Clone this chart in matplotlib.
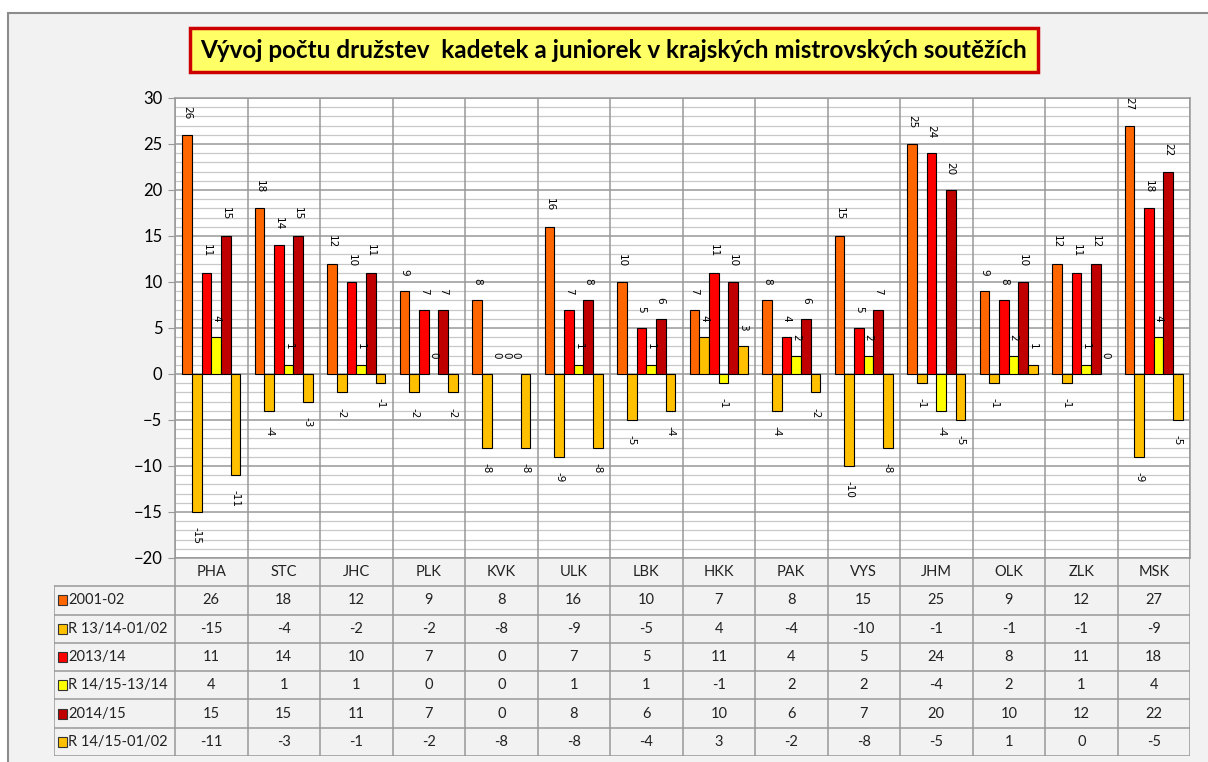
import numpy as np
import matplotlib
matplotlib.use("Agg")
import matplotlib.pyplot as plt
from matplotlib.patches import Rectangle

plt.rcParams['font.family'] = ['Lato', 'DejaVu Sans']

# data
kraje = ['PHA', 'STC', 'JHC', 'PLK', 'KVK', 'ULK', 'LBK', 'HKK', 'PAK', 'VYS', 'JHM', 'OLK', 'ZLK', 'MSK']
r2001 = [26, 18, 12, 9, 8, 16, 10, 7, 8, 15, 25, 9, 12, 27]
rozdil_13_01 = [-15, -4, -2, -2, -8, -9, -5, 4, -4, -10, -1, -1, -1, -9]
r2013 = [11, 14, 10, 7, 0, 7, 5, 11, 4, 5, 24, 8, 11, 18]
rozdil_14_13 = [4, 1, 1, 0, 0, 1, 1, -1, 2, 2, -4, 2, 1, 4]
r2014 = [15, 15, 11, 7, 0, 8, 6, 10, 6, 7, 20, 10, 12, 22]
rozdil_14_01 = [-11, -3, -1, -2, -8, -8, -4, 3, -2, -8, -5, 1, 0, -5]

nazvy = ['2001-02', 'R 13/14-01/02', '2013/14', 'R 14/15-13/14', '2014/15', 'R 14/15-01/02']
serie = [r2001, rozdil_13_01, r2013, rozdil_14_13, r2014, rozdil_14_01]
barvy = ['#FF6600', '#FFC000', '#FF0000', '#FFFF00', '#C00000', '#FFC000']

W, H = 1208, 762
fig = plt.figure(figsize=(W / 100, H / 100), dpi=100, facecolor='white')

def fx(px):
    return px / W

def fy(py):
    return 1 - py / H

# chart background + frame
fig.patches.append(Rectangle((fx(8), fy(775)), fx(1230) - fx(8), fy(13) - fy(775),
                             transform=fig.transFigure, facecolor='#F2F2F2',
                             edgecolor='#8C8C8C', linewidth=1.5, zorder=-5))

# plot area
x0, x1, ytop, ybot = 175, 1190, 98, 558
ax = fig.add_axes([fx(x0), fy(ybot), fx(x1) - fx(x0), fy(ytop) - fy(ybot)])
ax.set_facecolor('white')
n = len(kraje)
x = np.arange(n)
w = 1 / 7.5

for k, (vals, c) in enumerate(zip(serie, barvy)):
    pos = x + (k - 2.5) * w
    lws = [0.8 if v != 0 else 0 for v in vals]
    ax.bar(pos, vals, width=w, color=c, edgecolor='black', linewidth=lws, zorder=3)
    for xp, v in zip(pos, vals):
        if v >= 0:
            ax.annotate(str(v), (xp, v), xytext=(0, 11), textcoords='offset points',
                        rotation=270, ha='center', va='bottom', fontsize=7.5,
                        family=['DejaVu Sans'], zorder=4)
        else:
            ax.annotate(str(v), (xp, v), xytext=(0, -11), textcoords='offset points',
                        rotation=270, ha='center', va='top', fontsize=7.5,
                        family=['DejaVu Sans'], zorder=4)

ax.set_xlim(-0.5, n - 0.5)
ax.set_ylim(-20, 30)
ax.set_yticks(np.arange(-20, 31, 5))
ax.set_yticks(np.arange(-20, 31, 1), minor=True)
ax.set_xticks([])
ax.grid(axis='y', which='minor', color='#C8C8C8', linewidth=0.9, zorder=1)
ax.grid(axis='y', which='major', color='#989898', linewidth=1.1, zorder=1)
for b in np.arange(-0.5, n, 1):
    ax.axvline(b, color='#989898', linewidth=1.1, zorder=2)
for s in ax.spines.values():
    s.set_color('#989898')
    s.set_linewidth(1.1)
ax.tick_params(axis='y', which='major', length=5, color='#989898', labelsize=12, pad=4)
ax.tick_params(axis='y', which='minor', length=0)
ax.set_axisbelow(True)

# data table below the chart
tleft, tbot = 54, 756
rowh = (tbot - ybot) / 7.0
tab = fig.add_axes([fx(tleft), fy(tbot), fx(x1) - fx(tleft), fy(ybot) - fy(tbot)])
tab.set_xlim(tleft, x1)
tab.set_ylim(tbot, ybot)
tab.axis('off')
tab.patch.set_alpha(0)
colw = (x1 - x0) / n
lc = '#989898'

# vertical lines
for i in range(n + 1):
    tab.plot([x0 + i * colw] * 2, [ybot, tbot], color=lc, linewidth=1.1)
tab.plot([tleft, tleft], [ybot + rowh, tbot], color=lc, linewidth=1.1)
# horizontal lines
for r in range(1, 8):
    tab.plot([tleft, x1], [ybot + r * rowh] * 2, color=lc, linewidth=1.1)

for i, kr in enumerate(kraje):
    tab.text(x0 + (i + 0.5) * colw, ybot + 0.5 * rowh, kr, ha='center', va='center',
             fontsize=10.5, color='#222222')

for r, (nm, vals, c) in enumerate(zip(nazvy, serie, barvy)):
    yc = ybot + (r + 1.5) * rowh
    tab.add_patch(Rectangle((tleft + 4, yc - 5), 9, 10, facecolor=c, edgecolor='#333333',
                            linewidth=0.8))
    tab.text(tleft + 14, yc, nm, ha='left', va='center', fontsize=10.5, color='#222222')
    for i, v in enumerate(vals):
        tab.text(x0 + (i + 0.5) * colw, yc, str(v), ha='center', va='center',
                 fontsize=10.5, color='#222222')

# title box
fig.text(fx(614), fy(50), 'Vývoj počtu družstev  kadetek a juniorek v krajských mistrovských soutěžích',
         ha='center', va='center', fontsize=17.5, fontweight='bold', color='black',
         bbox=dict(boxstyle='square,pad=0.45', facecolor='#FFFF66', edgecolor='#CC0000',
                   linewidth=2.5))

fig.savefig('out.png', dpi=100, facecolor=fig.get_facecolor())
